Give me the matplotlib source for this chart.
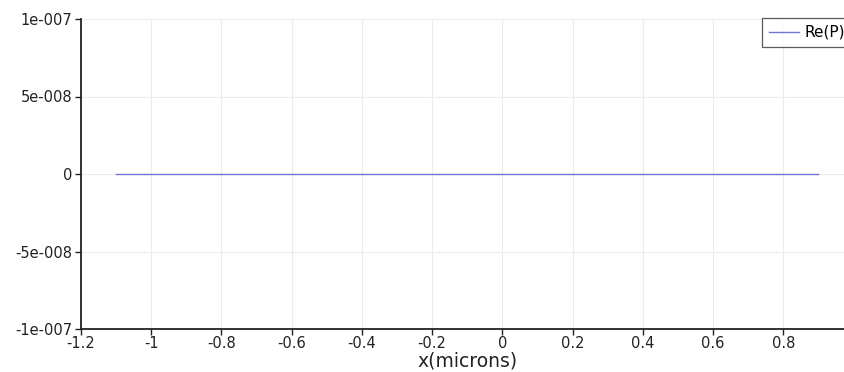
import matplotlib
matplotlib.use("Agg")
import matplotlib.pyplot as plt

x_values = [-1.1, 0.9]
y_values = [0.0, 0.0]
x_ticks = [-1.2, -1.0, -0.8, -0.6, -0.4, -0.2, 0.0, 0.2, 0.4, 0.6, 0.8]
x_tick_labels = ["-1.2", "-1", "-0.8", "-0.6", "-0.4", "-0.2", "0", "0.2", "0.4", "0.6", "0.8"]
y_ticks = [-1e-7, -5e-8, 0.0, 5e-8, 1e-7]
y_tick_labels = ["-1e-007", "-5e-008", "0", "5e-008", "1e-007"]
series_label = "Re(P)"

W, H = 845, 372
fig = plt.figure(figsize=(W / 100, H / 100), dpi=100)
left, right, top, bottom = 81, 853.5, 19, 329
ax = fig.add_axes([left / W, (H - bottom) / H, (right - left) / W, (bottom - top) / H])

ax.plot(x_values, y_values, color="#7474d4", lw=1.0, label=series_label)
ax.set_xlim(-1.2, 1.0)
ax.set_ylim(-1e-7, 1e-7)
ax.set_xticks(x_ticks)
ax.set_xticklabels(x_tick_labels)
ax.set_yticks(y_ticks)
ax.set_yticklabels(y_tick_labels)
ax.grid(True, color="#ebebeb", lw=0.8)
ax.set_axisbelow(True)
for s in ["top", "right"]:
    ax.spines[s].set_visible(False)
for s in ["left", "bottom"]:
    ax.spines[s].set_linewidth(1.3)
    ax.spines[s].set_color("#222222")
ax.tick_params(direction="out", length=4, width=1, labelsize=10.5, colors="#222222", pad=2)
ax.tick_params(axis="x", pad=1)
ax.set_xlabel("x(microns)", fontsize=13.5, labelpad=0.5, color="#222222")

leg = fig.legend(loc="upper left", bbox_to_anchor=(762 / W, 1 - 18 / H), fontsize=11,
                 frameon=True, fancybox=False, edgecolor="#333333", handlelength=2.0,
                 borderpad=0.45, handletextpad=0.3, borderaxespad=0)
leg.get_frame().set_linewidth(0.9)

fig.savefig("out.png", dpi=100)
